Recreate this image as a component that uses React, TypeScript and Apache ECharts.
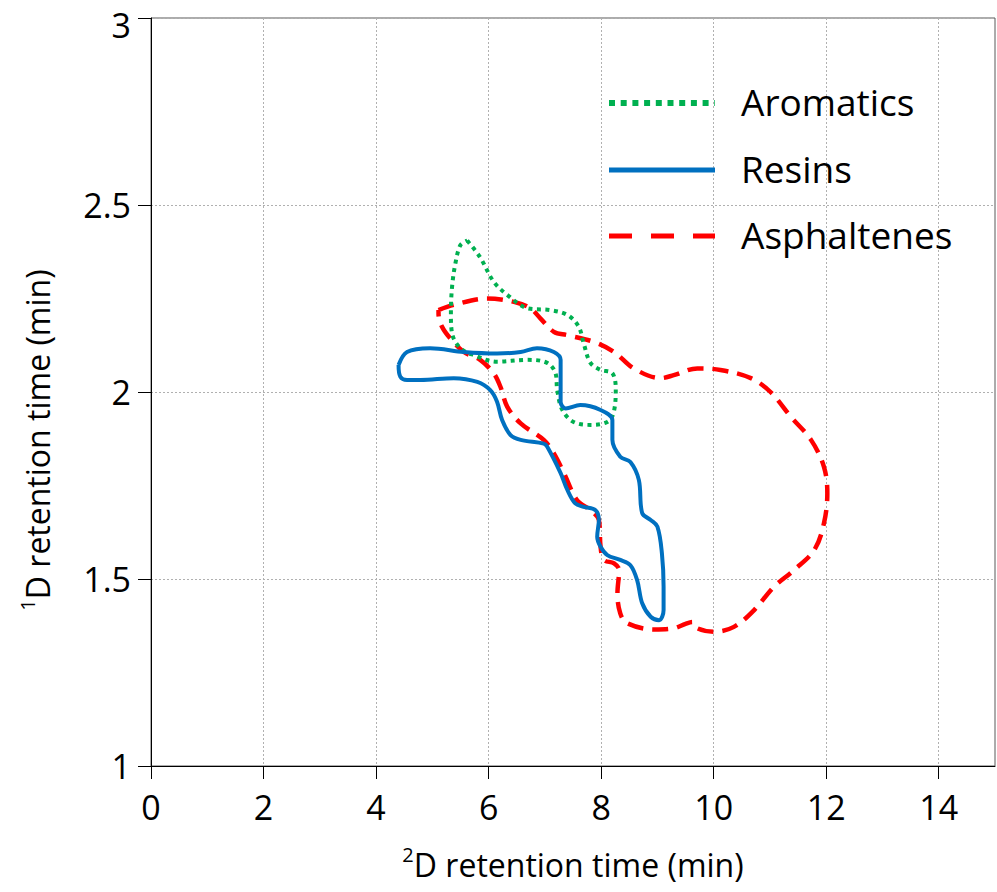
import React, { useEffect, useRef } from "react";
import * as echarts from "echarts";

const seriesNames = ["Aromatics", "Resins", "Asphaltenes"];
const seriesColors = ["#00B050", "#0070C0", "#FF0000"];

const xTickValues = [0, 2, 4, 6, 8, 10, 12, 14];

const aromatics: [number, number][] = [
  [5.62, 2.405], [5.85, 2.36], [6.09, 2.295], [6.33, 2.26], [6.69, 2.224],
  [7.1, 2.219], [7.4, 2.206], [7.6, 2.175], [7.69, 2.13], [7.81, 2.078],
  [7.99, 2.059], [8.2, 2.05], [8.26, 2.005], [8.22, 1.944], [8.11, 1.92],
  [7.81, 1.912], [7.51, 1.92], [7.31, 1.952], [7.22, 2.005], [7.19, 2.05],
  [7.04, 2.078], [6.69, 2.086], [6.15, 2.081], [5.73, 2.099], [5.5, 2.117],
  [5.35, 2.157], [5.33, 2.21], [5.35, 2.28], [5.41, 2.344], [5.5, 2.393],
  [5.62, 2.405],
];

const resins: [number, number][] = [
  [4.4, 2.072], [4.55, 2.107], [4.96, 2.117], [5.56, 2.107], [6.15, 2.103],
  [6.57, 2.107], [6.86, 2.117], [7.16, 2.107], [7.28, 2.086], [7.28, 2.032],
  [7.28, 1.974], [7.37, 1.956], [7.63, 1.965], [7.99, 1.952], [8.2, 1.925],
  [8.2, 1.872], [8.34, 1.827], [8.52, 1.813], [8.67, 1.765], [8.73, 1.676],
  [8.88, 1.658], [9.0, 1.64], [9.08, 1.569], [9.11, 1.479], [9.11, 1.417],
  [9.03, 1.39], [8.88, 1.399], [8.73, 1.435], [8.64, 1.497], [8.52, 1.537],
  [8.34, 1.551], [8.11, 1.564], [7.99, 1.586], [7.93, 1.613], [7.96, 1.658],
  [7.9, 1.684], [7.69, 1.693], [7.54, 1.702], [7.4, 1.738], [7.28, 1.783],
  [7.04, 1.854], [6.98, 1.862], [6.57, 1.872], [6.39, 1.885], [6.24, 1.925],
  [6.15, 1.974], [6.03, 2.005], [5.8, 2.027], [5.38, 2.037], [4.79, 2.032],
  [4.55, 2.032], [4.43, 2.041], [4.4, 2.072],
];

const asphaltenes: [number, number][] = [
  [5.11, 2.219], [5.38, 2.233], [5.97, 2.25], [6.45, 2.241], [6.74, 2.224],
  [6.92, 2.197], [7.16, 2.161], [7.4, 2.152], [7.87, 2.134], [8.23, 2.107],
  [8.58, 2.063], [9.06, 2.037], [9.29, 2.045], [9.71, 2.063], [10.12, 2.059],
  [10.66, 2.037], [11.01, 2.0], [11.37, 1.934], [11.73, 1.872], [11.96, 1.8],
  [12.02, 1.729], [11.96, 1.649], [11.79, 1.578], [11.43, 1.524], [11.07, 1.479],
  [10.72, 1.417], [10.36, 1.372], [10.01, 1.359], [9.71, 1.368], [9.62, 1.385],
  [9.5, 1.38], [9.29, 1.368], [8.94, 1.365], [8.46, 1.382], [8.34, 1.408],
  [8.29, 1.461], [8.32, 1.524], [8.23, 1.542], [8.05, 1.551], [7.99, 1.586],
  [7.96, 1.658], [7.81, 1.684], [7.57, 1.711], [7.34, 1.783], [7.16, 1.836],
  [6.98, 1.872], [6.57, 1.916], [6.33, 1.961], [6.21, 2.014], [6.09, 2.05],
  [5.85, 2.086], [5.56, 2.107], [5.32, 2.143], [5.17, 2.175], [5.11, 2.21],
  [5.11, 2.219],
];

const FONT = "'Open Sans', 'Noto Sans', sans-serif";

const legendLineStyles = [
  { lineWidth: 6, lineDash: [6, 5.7] },
  { lineWidth: 5, lineDash: null },
  { lineWidth: 5, lineDash: [23, 19] },
];

export default function App() {
  const ref = useRef<HTMLDivElement>(null);
  useEffect(() => {
    if (!ref.current) return;
    const chart = echarts.init(ref.current, null, { renderer: "svg" });
    const legendRowY = [103, 170, 236];
    const legendGraphics: any[] = [];
    seriesNames.forEach((name, i) => {
      const ls = legendLineStyles[i];
      legendGraphics.push({
        type: "line",
        shape: { x1: 609, y1: legendRowY[i], x2: 715, y2: legendRowY[i] },
        style: {
          stroke: seriesColors[i],
          lineWidth: ls.lineWidth,
          lineDash: ls.lineDash,
          lineCap: "butt",
        },
        z: 10,
      });
      legendGraphics.push({
        type: "text",
        x: 741,
        y: legendRowY[i] - 2,
        style: {
          text: name,
          font: `37px ${FONT}`,
          fill: "#000",
          verticalAlign: "middle",
          align: "left",
        },
        z: 10,
      });
    });
    chart.setOption({
      animation: false,
      backgroundColor: "#ffffff",
      textStyle: { fontFamily: FONT, color: "#000" },
      grid: {
        left: 151,
        top: 18,
        right: 2,
        bottom: 126,
        show: true,
        borderColor: "#595959",
        borderWidth: 1,
      },
      graphic: legendGraphics,
      xAxis: {
        type: "value",
        min: 0,
        max: 15,
        interval: 2,
        axisLine: { show: true, lineStyle: { color: "#000", width: 1 } },
        axisTick: {
          show: true,
          inside: false,
          length: 13,
          lineStyle: { color: "#000" },
          customValues: xTickValues,
        },
        axisLabel: {
          fontFamily: FONT,
          fontSize: 34,
          color: "#000",
          margin: 24,
          customValues: xTickValues,
        },
        splitLine: {
          show: true,
          lineStyle: { color: "#b0b0b0", type: [2, 2], width: 1 },
        },
        name: "{sup|2}{t|D retention time (min)}",
        nameLocation: "middle",
        nameGap: 78,
        nameTextStyle: {
          rich: {
            sup: { fontFamily: FONT, fontSize: 20, color: "#000", verticalAlign: "top", lineHeight: 40 },
            t: { fontFamily: FONT, fontSize: 32, color: "#000", lineHeight: 40 },
          },
        },
      },
      yAxis: {
        type: "value",
        min: 1,
        max: 3,
        interval: 0.5,
        axisLine: { show: true, lineStyle: { color: "#000", width: 1 } },
        axisTick: {
          show: true,
          inside: false,
          length: 13,
          lineStyle: { color: "#000" },
        },
        axisLabel: {
          fontFamily: FONT,
          fontSize: 34,
          color: "#000",
          margin: 20,
          formatter: (v: number) => (v === 3 ? "{top|3}" : String(v)),
          rich: {
            top: { fontFamily: FONT, fontSize: 34, color: "#000", padding: [14, 0, 0, 0] },
          },
        },
        splitLine: {
          show: true,
          lineStyle: { color: "#b0b0b0", type: [2, 2], width: 1 },
        },
        name: "{sup|1}{t|D retention time (min)}",
        nameLocation: "middle",
        nameGap: 94,
        nameTextStyle: {
          padding: [0, 96, 0, 0],
          rich: {
            sup: { fontFamily: FONT, fontSize: 20, color: "#000", verticalAlign: "top", lineHeight: 40 },
            t: { fontFamily: FONT, fontSize: 32, color: "#000", lineHeight: 40 },
          },
        },
      },
      series: [
        {
          name: "Aromatics",
          type: "line",
          data: aromatics,
          smooth: 0.35,
          showSymbol: false,
          symbol: "none",
          lineStyle: { color: seriesColors[0], width: 4, type: [4, 4.5], cap: "butt" },
          itemStyle: { color: seriesColors[0] },
          z: 3,
        },
        {
          name: "Resins",
          type: "line",
          data: resins,
          smooth: 0.35,
          showSymbol: false,
          symbol: "none",
          lineStyle: { color: seriesColors[1], width: 4, type: "solid" },
          itemStyle: { color: seriesColors[1] },
          z: 4,
        },
        {
          name: "Asphaltenes",
          type: "line",
          data: asphaltenes,
          smooth: 0.35,
          showSymbol: false,
          symbol: "none",
          lineStyle: { color: seriesColors[2], width: 4.5, type: [16, 9], cap: "butt" },
          itemStyle: { color: seriesColors[2] },
          z: 2,
        },
      ],
    });
    return () => chart.dispose();
  }, []);
  return (
    <div
      ref={ref}
      style={{ position: "fixed", left: 0, top: 0, width: 997, height: 892 }}
    />
  );
}
